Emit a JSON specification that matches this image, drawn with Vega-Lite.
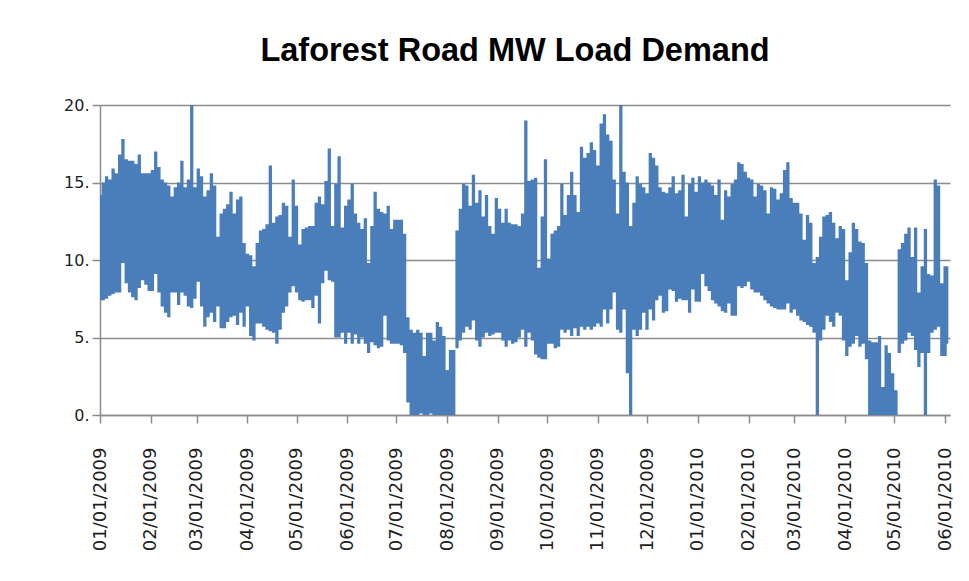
{
  "$schema": "https://vega.github.io/schema/vega-lite/v6.json",
  "autosize": "none",
  "width": 850,
  "height": 310,
  "padding": {"left": 100, "top": 105, "right": 19, "bottom": 166},
  "background": "white",
  "title": {
    "text": "Laforest Road MW Load Demand",
    "font": "Liberation Sans",
    "fontSize": 32.5,
    "fontWeight": "bold",
    "color": "#000000",
    "anchor": "middle",
    "dx": -10,
    "baseline": "alphabetic",
    "offset": 4
  },
  "config": {
    "view": {"stroke": null},
    "axis": {"labelFlush": false, "title": null}
  },
  "data": {
    "values": [
      {"t":"2009-01-01","lo":7.4,"hi":14.2},{"t":"2009-01-03","lo":7.4,"hi":15.0},{"t":"2009-01-05","lo":7.5,"hi":15.4},{"t":"2009-01-07","lo":7.7,"hi":15.2},
      {"t":"2009-01-09","lo":7.8,"hi":15.9},{"t":"2009-01-11","lo":7.9,"hi":15.6},{"t":"2009-01-13","lo":7.9,"hi":16.8},{"t":"2009-01-15","lo":9.8,"hi":17.8},
      {"t":"2009-01-17","lo":8.5,"hi":16.5},{"t":"2009-01-19","lo":7.9,"hi":16.4},{"t":"2009-01-21","lo":7.6,"hi":16.4},{"t":"2009-01-23","lo":7.4,"hi":16.2},
      {"t":"2009-01-25","lo":8.2,"hi":16.8},{"t":"2009-01-27","lo":8.7,"hi":15.6},{"t":"2009-01-29","lo":8.4,"hi":15.6},{"t":"2009-01-31","lo":8.0,"hi":15.6},
      {"t":"2009-02-02","lo":8.0,"hi":15.8},{"t":"2009-02-04","lo":9.1,"hi":17.0},{"t":"2009-02-06","lo":7.9,"hi":16.0},{"t":"2009-02-08","lo":7.0,"hi":15.2},
      {"t":"2009-02-10","lo":6.6,"hi":15.0},{"t":"2009-02-12","lo":6.3,"hi":14.8},{"t":"2009-02-14","lo":7.9,"hi":14.1},{"t":"2009-02-16","lo":7.9,"hi":14.7},
      {"t":"2009-02-18","lo":7.1,"hi":15.0},{"t":"2009-02-20","lo":7.9,"hi":16.4},{"t":"2009-02-22","lo":7.7,"hi":14.7},{"t":"2009-02-24","lo":7.0,"hi":15.2},
      {"t":"2009-02-26","lo":6.9,"hi":20.0},{"t":"2009-02-28","lo":7.5,"hi":14.7},{"t":"2009-03-02","lo":8.6,"hi":15.9},{"t":"2009-03-04","lo":7.0,"hi":15.4},
      {"t":"2009-03-06","lo":5.7,"hi":14.1},{"t":"2009-03-08","lo":6.3,"hi":14.5},{"t":"2009-03-10","lo":6.6,"hi":15.6},{"t":"2009-03-12","lo":6.0,"hi":14.8},
      {"t":"2009-03-14","lo":7.0,"hi":11.5},{"t":"2009-03-16","lo":5.6,"hi":13.0},{"t":"2009-03-18","lo":5.6,"hi":13.3},{"t":"2009-03-20","lo":6.0,"hi":13.6},
      {"t":"2009-03-22","lo":6.3,"hi":14.4},{"t":"2009-03-24","lo":6.4,"hi":13.0},{"t":"2009-03-26","lo":5.8,"hi":13.9},{"t":"2009-03-28","lo":6.6,"hi":14.1},
      {"t":"2009-03-30","lo":5.7,"hi":11.1},{"t":"2009-04-01","lo":7.0,"hi":10.4},{"t":"2009-04-03","lo":5.1,"hi":10.3},{"t":"2009-04-05","lo":4.8,"hi":9.6},
      {"t":"2009-04-07","lo":5.9,"hi":11.1},{"t":"2009-04-09","lo":5.9,"hi":11.9},{"t":"2009-04-11","lo":5.7,"hi":12.0},{"t":"2009-04-13","lo":5.5,"hi":12.3},
      {"t":"2009-04-15","lo":5.4,"hi":16.1},{"t":"2009-04-17","lo":5.3,"hi":12.4},{"t":"2009-04-19","lo":4.6,"hi":12.8},{"t":"2009-04-21","lo":5.5,"hi":12.9},
      {"t":"2009-04-23","lo":6.6,"hi":13.7},{"t":"2009-04-25","lo":7.0,"hi":13.5},{"t":"2009-04-27","lo":7.9,"hi":11.5},{"t":"2009-04-29","lo":8.3,"hi":15.2},
      {"t":"2009-05-01","lo":7.9,"hi":13.5},{"t":"2009-05-03","lo":7.4,"hi":11.0},{"t":"2009-05-05","lo":7.3,"hi":12.0},{"t":"2009-05-07","lo":7.4,"hi":12.1},
      {"t":"2009-05-09","lo":7.4,"hi":12.2},{"t":"2009-05-11","lo":6.9,"hi":12.2},{"t":"2009-05-13","lo":7.7,"hi":13.7},{"t":"2009-05-15","lo":5.9,"hi":14.1},
      {"t":"2009-05-17","lo":8.5,"hi":13.6},{"t":"2009-05-19","lo":9.3,"hi":15.1},{"t":"2009-05-21","lo":8.7,"hi":17.2},{"t":"2009-05-23","lo":8.6,"hi":12.2},
      {"t":"2009-05-25","lo":5.0,"hi":14.9},{"t":"2009-05-27","lo":5.0,"hi":16.7},{"t":"2009-05-29","lo":5.3,"hi":12.1},{"t":"2009-05-31","lo":4.6,"hi":13.5},
      {"t":"2009-06-02","lo":5.3,"hi":13.9},{"t":"2009-06-04","lo":4.6,"hi":14.9},{"t":"2009-06-06","lo":5.2,"hi":13.0},{"t":"2009-06-08","lo":4.6,"hi":12.4},
      {"t":"2009-06-10","lo":5.0,"hi":12.0},{"t":"2009-06-12","lo":4.6,"hi":12.7},{"t":"2009-06-14","lo":4.0,"hi":9.8},{"t":"2009-06-16","lo":4.7,"hi":12.2},
      {"t":"2009-06-18","lo":4.5,"hi":14.4},{"t":"2009-06-20","lo":4.3,"hi":13.3},{"t":"2009-06-22","lo":4.4,"hi":13.1},{"t":"2009-06-24","lo":6.4,"hi":13.0},
      {"t":"2009-06-26","lo":4.8,"hi":13.5},{"t":"2009-06-28","lo":4.6,"hi":12.0},{"t":"2009-06-30","lo":4.6,"hi":12.6},{"t":"2009-07-02","lo":4.6,"hi":12.6},
      {"t":"2009-07-04","lo":4.5,"hi":12.6},{"t":"2009-07-06","lo":4.0,"hi":11.7},{"t":"2009-07-08","lo":0.8,"hi":6.3},{"t":"2009-07-10","lo":0.0,"hi":5.5},
      {"t":"2009-07-12","lo":0.0,"hi":5.3},{"t":"2009-07-14","lo":0.0,"hi":5.5},{"t":"2009-07-16","lo":0.1,"hi":5.3},{"t":"2009-07-18","lo":0.0,"hi":3.8},
      {"t":"2009-07-20","lo":0.0,"hi":5.3},{"t":"2009-07-22","lo":0.1,"hi":5.3},{"t":"2009-07-24","lo":0.0,"hi":4.8},{"t":"2009-07-26","lo":0.0,"hi":6.0},
      {"t":"2009-07-28","lo":0.0,"hi":5.7},{"t":"2009-07-30","lo":0.0,"hi":5.1},{"t":"2009-08-01","lo":0.0,"hi":2.9},{"t":"2009-08-03","lo":0.0,"hi":4.2},
      {"t":"2009-08-05","lo":0.0,"hi":4.2},{"t":"2009-08-07","lo":4.3,"hi":11.9},{"t":"2009-08-09","lo":4.8,"hi":13.3},{"t":"2009-08-11","lo":5.3,"hi":14.9},
      {"t":"2009-08-13","lo":5.7,"hi":14.8},{"t":"2009-08-15","lo":5.5,"hi":13.5},{"t":"2009-08-17","lo":6.1,"hi":15.5},{"t":"2009-08-19","lo":4.8,"hi":13.7},
      {"t":"2009-08-21","lo":4.4,"hi":14.5},{"t":"2009-08-23","lo":5.0,"hi":12.8},{"t":"2009-08-25","lo":5.3,"hi":14.2},{"t":"2009-08-27","lo":5.1,"hi":12.2},
      {"t":"2009-08-29","lo":5.2,"hi":11.7},{"t":"2009-08-31","lo":5.3,"hi":14.0},{"t":"2009-09-02","lo":5.3,"hi":13.3},{"t":"2009-09-04","lo":4.8,"hi":12.4},
      {"t":"2009-09-06","lo":4.4,"hi":13.3},{"t":"2009-09-08","lo":4.8,"hi":12.4},{"t":"2009-09-10","lo":4.6,"hi":12.3},{"t":"2009-09-12","lo":4.7,"hi":12.3},
      {"t":"2009-09-14","lo":5.0,"hi":12.2},{"t":"2009-09-16","lo":5.5,"hi":13.0},{"t":"2009-09-18","lo":4.4,"hi":19.0},{"t":"2009-09-20","lo":5.3,"hi":15.1},
      {"t":"2009-09-22","lo":4.8,"hi":15.2},{"t":"2009-09-24","lo":3.9,"hi":15.3},{"t":"2009-09-26","lo":3.7,"hi":9.5},{"t":"2009-09-28","lo":3.6,"hi":12.8},
      {"t":"2009-09-30","lo":3.6,"hi":16.5},{"t":"2009-10-02","lo":4.6,"hi":10.1},{"t":"2009-10-04","lo":4.6,"hi":11.7},{"t":"2009-10-06","lo":4.3,"hi":11.9},
      {"t":"2009-10-08","lo":4.4,"hi":12.2},{"t":"2009-10-10","lo":5.5,"hi":14.9},{"t":"2009-10-12","lo":5.3,"hi":12.9},{"t":"2009-10-14","lo":5.5,"hi":14.2},
      {"t":"2009-10-16","lo":5.1,"hi":15.7},{"t":"2009-10-18","lo":5.6,"hi":14.2},{"t":"2009-10-20","lo":5.1,"hi":13.1},{"t":"2009-10-22","lo":5.7,"hi":17.3},
      {"t":"2009-10-24","lo":5.5,"hi":16.6},{"t":"2009-10-26","lo":5.7,"hi":16.9},{"t":"2009-10-28","lo":5.5,"hi":17.6},{"t":"2009-10-30","lo":5.7,"hi":17.1},
      {"t":"2009-11-01","lo":5.9,"hi":16.1},{"t":"2009-11-03","lo":5.7,"hi":18.8},{"t":"2009-11-05","lo":6.8,"hi":19.4},{"t":"2009-11-07","lo":5.9,"hi":18.1},
      {"t":"2009-11-09","lo":6.8,"hi":17.7},{"t":"2009-11-11","lo":7.9,"hi":15.2},{"t":"2009-11-13","lo":5.5,"hi":13.0},{"t":"2009-11-15","lo":5.3,"hi":20.0},
      {"t":"2009-11-17","lo":6.8,"hi":15.7},{"t":"2009-11-19","lo":2.7,"hi":15.0},{"t":"2009-11-21","lo":0.0,"hi":12.2},{"t":"2009-11-23","lo":5.5,"hi":13.7},
      {"t":"2009-11-25","lo":5.1,"hi":15.4},{"t":"2009-11-27","lo":5.5,"hi":14.9},{"t":"2009-11-29","lo":6.6,"hi":14.7},{"t":"2009-12-01","lo":5.5,"hi":14.3},
      {"t":"2009-12-03","lo":6.8,"hi":16.9},{"t":"2009-12-05","lo":6.1,"hi":16.6},{"t":"2009-12-07","lo":7.4,"hi":16.1},{"t":"2009-12-09","lo":7.7,"hi":14.7},
      {"t":"2009-12-11","lo":6.6,"hi":14.4},{"t":"2009-12-13","lo":6.7,"hi":14.3},{"t":"2009-12-15","lo":8.1,"hi":14.7},{"t":"2009-12-17","lo":8.0,"hi":15.4},
      {"t":"2009-12-19","lo":7.3,"hi":14.3},{"t":"2009-12-21","lo":7.5,"hi":14.5},{"t":"2009-12-23","lo":7.4,"hi":15.5},{"t":"2009-12-25","lo":7.4,"hi":12.8},
      {"t":"2009-12-27","lo":6.6,"hi":14.9},{"t":"2009-12-29","lo":8.1,"hi":15.3},{"t":"2009-12-31","lo":7.3,"hi":14.4},{"t":"2010-01-02","lo":7.3,"hi":15.4},
      {"t":"2010-01-04","lo":9.1,"hi":15.0},{"t":"2010-01-06","lo":8.3,"hi":15.2},{"t":"2010-01-08","lo":8.0,"hi":15.0},{"t":"2010-01-10","lo":7.4,"hi":14.8},
      {"t":"2010-01-12","lo":7.2,"hi":14.2},{"t":"2010-01-14","lo":7.0,"hi":15.2},{"t":"2010-01-16","lo":6.7,"hi":12.6},{"t":"2010-01-18","lo":6.6,"hi":14.5},
      {"t":"2010-01-20","lo":7.2,"hi":14.1},{"t":"2010-01-22","lo":6.4,"hi":14.9},{"t":"2010-01-24","lo":6.4,"hi":15.2},{"t":"2010-01-26","lo":8.3,"hi":16.3},
      {"t":"2010-01-28","lo":8.2,"hi":16.2},{"t":"2010-01-30","lo":8.3,"hi":15.7},{"t":"2010-02-01","lo":8.6,"hi":15.3},{"t":"2010-02-03","lo":8.1,"hi":15.2},
      {"t":"2010-02-05","lo":7.9,"hi":14.1},{"t":"2010-02-07","lo":7.9,"hi":14.9},{"t":"2010-02-09","lo":7.7,"hi":14.8},{"t":"2010-02-11","lo":7.4,"hi":14.5},
      {"t":"2010-02-13","lo":7.2,"hi":13.0},{"t":"2010-02-15","lo":7.0,"hi":14.7},{"t":"2010-02-17","lo":6.9,"hi":14.6},{"t":"2010-02-19","lo":6.8,"hi":13.9},
      {"t":"2010-02-21","lo":6.8,"hi":14.3},{"t":"2010-02-23","lo":6.8,"hi":15.8},{"t":"2010-02-25","lo":7.2,"hi":16.3},{"t":"2010-02-27","lo":6.6,"hi":14.0},
      {"t":"2010-03-01","lo":6.8,"hi":13.7},{"t":"2010-03-03","lo":6.4,"hi":13.7},{"t":"2010-03-05","lo":6.1,"hi":13.0},{"t":"2010-03-07","lo":6.0,"hi":11.3},
      {"t":"2010-03-09","lo":5.8,"hi":12.9},{"t":"2010-03-11","lo":5.7,"hi":12.4},{"t":"2010-03-13","lo":5.3,"hi":9.8},{"t":"2010-03-15","lo":0.0,"hi":10.2},
      {"t":"2010-03-17","lo":4.8,"hi":11.5},{"t":"2010-03-19","lo":5.5,"hi":12.8},{"t":"2010-03-21","lo":6.4,"hi":12.9},{"t":"2010-03-23","lo":6.0,"hi":13.1},
      {"t":"2010-03-25","lo":5.7,"hi":12.4},{"t":"2010-03-27","lo":6.6,"hi":11.4},{"t":"2010-03-29","lo":6.4,"hi":12.2},{"t":"2010-03-31","lo":4.8,"hi":12.0},
      {"t":"2010-04-02","lo":3.8,"hi":8.7},{"t":"2010-04-04","lo":4.4,"hi":10.5},{"t":"2010-04-06","lo":4.6,"hi":12.4},{"t":"2010-04-08","lo":5.1,"hi":12.0},
      {"t":"2010-04-10","lo":4.4,"hi":11.2},{"t":"2010-04-12","lo":4.6,"hi":11.1},{"t":"2010-04-14","lo":3.6,"hi":9.8},{"t":"2010-04-16","lo":0.0,"hi":4.8},
      {"t":"2010-04-18","lo":0.0,"hi":4.7},{"t":"2010-04-20","lo":0.0,"hi":4.7},{"t":"2010-04-22","lo":0.0,"hi":5.1},{"t":"2010-04-24","lo":0.0,"hi":1.8},
      {"t":"2010-04-26","lo":0.0,"hi":4.5},{"t":"2010-04-28","lo":0.0,"hi":4.0},{"t":"2010-04-30","lo":0.0,"hi":2.7},{"t":"2010-05-02","lo":0.0,"hi":1.6},
      {"t":"2010-05-04","lo":4.0,"hi":10.7},{"t":"2010-05-06","lo":4.6,"hi":11.1},{"t":"2010-05-08","lo":4.8,"hi":11.7},{"t":"2010-05-10","lo":5.3,"hi":12.1},
      {"t":"2010-05-12","lo":5.1,"hi":10.2},{"t":"2010-05-14","lo":4.2,"hi":12.1},{"t":"2010-05-16","lo":3.1,"hi":7.9},{"t":"2010-05-18","lo":4.0,"hi":9.6},
      {"t":"2010-05-20","lo":0.0,"hi":12.0},{"t":"2010-05-22","lo":4.0,"hi":9.1},{"t":"2010-05-24","lo":5.3,"hi":9.0},{"t":"2010-05-26","lo":5.5,"hi":15.2},
      {"t":"2010-05-28","lo":5.7,"hi":14.8},{"t":"2010-05-30","lo":3.8,"hi":8.5},{"t":"2010-06-01","lo":3.8,"hi":9.6},{"t":"2010-06-03","lo":4.6,"hi":9.6}
    ]
  },
  "mark": {"type": "area", "interpolate": "step", "color": "#4A7EBB", "opacity": 1},
  "encoding": {
    "x": {
      "field": "t",
      "type": "temporal",
      "scale": {
        "type": "utc",
        "domain": [
          {"year": 2009, "month": 1, "date": 1, "utc": true},
          {"year": 2010, "month": 6, "date": 4, "utc": true}
        ]
      },
      "axis": {
        "values": [
          {"year": 2009, "month": 1, "date": 1, "utc": true},
          {"year": 2009, "month": 2, "date": 1, "utc": true},
          {"year": 2009, "month": 3, "date": 1, "utc": true},
          {"year": 2009, "month": 4, "date": 1, "utc": true},
          {"year": 2009, "month": 5, "date": 1, "utc": true},
          {"year": 2009, "month": 6, "date": 1, "utc": true},
          {"year": 2009, "month": 7, "date": 1, "utc": true},
          {"year": 2009, "month": 8, "date": 1, "utc": true},
          {"year": 2009, "month": 9, "date": 1, "utc": true},
          {"year": 2009, "month": 10, "date": 1, "utc": true},
          {"year": 2009, "month": 11, "date": 1, "utc": true},
          {"year": 2009, "month": 12, "date": 1, "utc": true},
          {"year": 2010, "month": 1, "date": 1, "utc": true},
          {"year": 2010, "month": 2, "date": 1, "utc": true},
          {"year": 2010, "month": 3, "date": 1, "utc": true},
          {"year": 2010, "month": 4, "date": 1, "utc": true},
          {"year": 2010, "month": 5, "date": 1, "utc": true},
          {"year": 2010, "month": 6, "date": 1, "utc": true}
        ],
        "labelExpr": "utcFormat(datum.value, '%m/%d/%Y')",
        "labelAngle": -90,
        "labelFont": "DejaVu Sans",
        "labelFontSize": 18,
        "labelColor": "#1e1e1e",
        "labelPadding": 24,
        "labelOverlap": false,
        "grid": false,
        "domainColor": "#8c8c8c",
        "domainWidth": 1.5,
        "tickColor": "#8c8c8c",
        "tickWidth": 1.5,
        "tickSize": 8
      }
    },
    "y": {
      "field": "lo",
      "type": "quantitative",
      "scale": {"domain": [0, 20], "nice": false, "zero": true},
      "axis": {
        "values": [0, 5, 10, 15, 20],
        "labelExpr": "datum.value + '.'",
        "labelFont": "DejaVu Sans",
        "labelFontSize": 16,
        "labelColor": "#1e1e1e",
        "labelPadding": 3,
        "grid": true,
        "gridColor": "#8c8c8c",
        "gridWidth": 1.5,
        "domainColor": "#8c8c8c",
        "domainWidth": 1.5,
        "tickColor": "#8c8c8c",
        "tickWidth": 1.5,
        "tickSize": 8
      }
    },
    "y2": {"field": "hi"}
  }
}
